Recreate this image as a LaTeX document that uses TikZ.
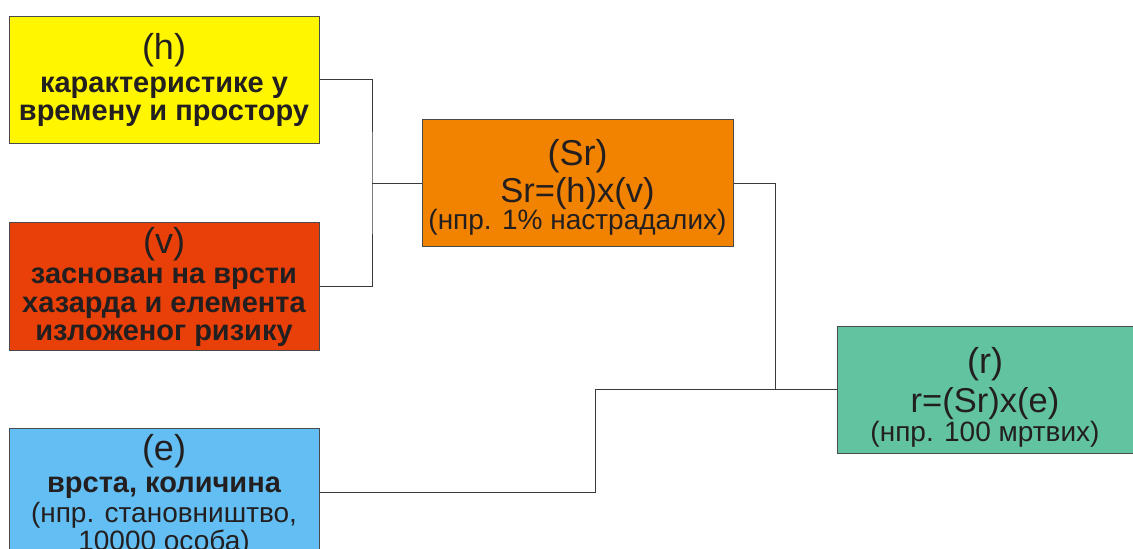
\documentclass[tikz,border=0pt]{standalone}
\usepackage{fontspec}
\setmainfont{Liberation Sans}
\begin{document}
\begin{tikzpicture}[x=1pt,y=-1pt,
  box/.style={draw=boxline,line width=0.8pt,inner sep=0pt,anchor=north west},
  head/.style={anchor=base,inner sep=0pt,text=ink,font=\fontsize{36}{36}\selectfont},
  formula/.style={anchor=base,inner sep=0pt,text=ink,font=\fontsize{34.5}{34.5}\selectfont},
  desc/.style={anchor=base,inner sep=0pt,text=ink,font=\fontsize{29}{29}\selectfont\bfseries},
  note/.style={anchor=base,inner sep=0pt,text=ink,font=\fontsize{28}{28}\selectfont},
  link/.style={draw=linegray,line width=1pt}]
\definecolor{ink}{HTML}{231F20}
\definecolor{boxline}{HTML}{4A4A4A}
\definecolor{linegray}{HTML}{3A3A3A}
\definecolor{hazard}{HTML}{FFF600}
\definecolor{vuln}{HTML}{E84008}
\definecolor{specific}{HTML}{F28300}
\definecolor{elements}{HTML}{63BFF3}
\definecolor{risk}{HTML}{62C3A1}
\useasboundingbox (0,0) rectangle (1133,549);

% boxes
\node[box,fill=hazard,minimum width=310,minimum height=127] (h) at (9,16) {};
\node[box,fill=vuln,minimum width=310,minimum height=128] (v) at (9,222) {};
\node[box,fill=elements,minimum width=310,minimum height=128] (e) at (9,428) {};
\node[box,fill=specific,minimum width=311,minimum height=127] (sr) at (422,119) {};
\node[box,fill=risk,minimum width=300,minimum height=127] (r) at (837,326) {};

% (h)
\node[head] (h1) at (164,59) {(h)};
\node[desc] (h2) at (164,92) {карактеристике у};
\node[desc] (h3) at (164,120) {времену и простору};
% (v)
\node[head] (v1) at (164,253) {(v)};
\node[desc] (v2) at (164,283) {заснован на врсти};
\node[desc] (v3) at (164,312) {хазарда и елемента};
\node[desc] (v4) at (164,340) {изложеног ризику};
% (e)
\node[head] (e1) at (164,460) {(e)};
\node[desc] (e2) at (164,492) {врста, количина};
\node[note] (e3) at (164,522) {(нпр. становништво,};
\node[note] (e4) at (164,550) {10000 особа)};
% (Sr)
\node[head] (s1) at (577.5,165) {(Sr)};
\node[formula] (s2) at (577.5,202) {Sr=(h)x(v)};
\node[note] (s3) at (577.5,229) {(нпр. 1\% настрадалих)};
% (r)
\node[head] (r1) at (985,373) {(r)};
\node[formula] (r2) at (985,412) {r=(Sr)x(e)};
\node[note] (r3) at (985,441) {(нпр. 100 мртвих)};

% connectors
\coordinate (j1) at (372,183);
\coordinate (j2) at (775,389);
\coordinate (j3) at (595,389);
\draw[link] (h.east |- 0,79) -| (j1) |- (v.east |- 0,286);
\draw[link] (j1) -- (sr.west |- j1);
\draw[link] (sr.east |- j1) -| (j2) -- (r.west |- j2);
\draw[link] (e.east |- 0,492) -| (j3) -- (j2);
\end{tikzpicture}
\end{document}
